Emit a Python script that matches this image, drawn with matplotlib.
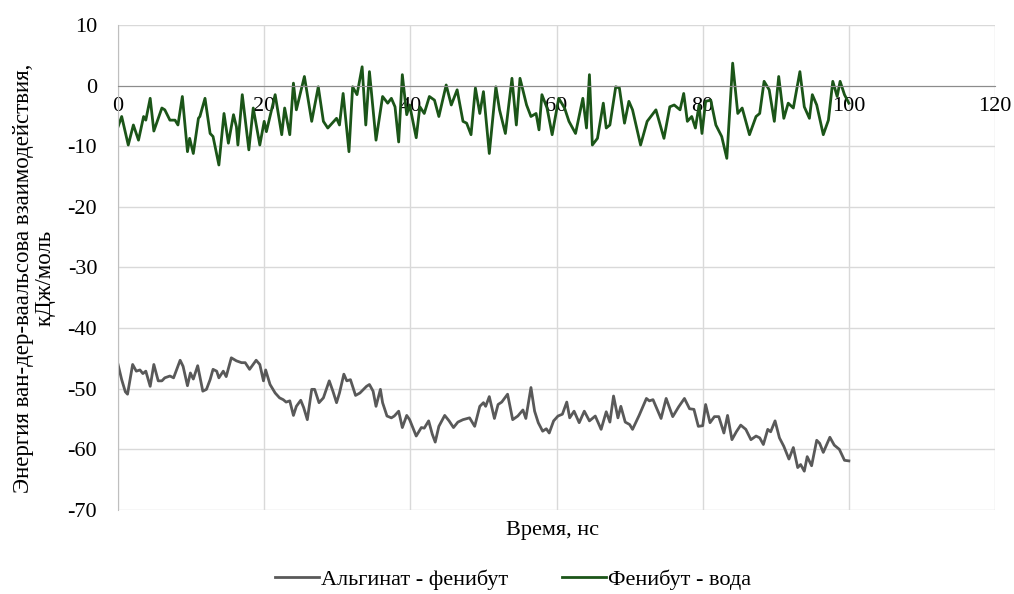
import matplotlib
matplotlib.use("Agg")
import matplotlib.pyplot as plt

plt.rcParams['font.family'] = ['Liberation Serif', 'DejaVu Serif']
plt.rcParams['axes.unicode_minus'] = False

# Альгинат - фенибут (gray)
alg_t = [0.0, 0.5, 1.0, 1.3, 2.0, 2.5, 3.0, 3.4, 3.8, 4.4, 4.9, 5.5, 6.0, 6.4, 7.1, 7.6,
         8.5, 8.9, 9.5, 9.9, 10.3, 10.9, 11.6, 12.1, 12.6, 13.0, 13.5, 13.8, 14.4, 14.8,
         15.5, 16.2, 16.9, 17.4, 18.0, 18.9, 19.4, 19.9, 20.2, 20.8, 21.5, 22.1, 22.6,
         23.0, 23.5, 24.0, 24.4, 25.0, 25.4, 25.9, 26.5, 26.9, 27.5, 28.1, 28.9, 29.4,
         29.9, 30.3, 30.9, 31.3, 31.8,
         32.5, 33.1, 34.0, 34.4, 34.9, 35.3, 35.9, 36.2, 36.8, 37.4, 37.8, 38.4, 38.9,
         39.5, 39.9, 40.8, 41.5, 41.9, 42.5, 43.0, 43.4, 43.9, 44.7, 45.3, 45.9, 46.5,
         47.2, 48.1, 48.8, 49.5, 50.0, 50.3, 50.8, 51.5, 52.0, 52.5, 53.3, 54.0, 54.7,
         55.4, 55.8, 56.5, 57.0, 57.5, 58.1, 58.6, 59.0, 59.6, 60.2, 60.8, 61.4, 61.8,
         62.4, 63.1, 63.8,
         64.5, 65.3, 66.1, 66.8, 67.3, 67.8, 68.4, 68.8, 69.4, 70.0, 70.4, 71.3, 72.3,
         72.7, 73.2, 74.3, 75.0, 75.9, 76.7, 77.5, 78.2, 78.8, 79.4, 80.0, 80.4, 81.0,
         81.6, 82.2, 82.9, 83.4, 84.0, 84.6, 85.2, 85.9, 86.6, 87.3, 87.8, 88.3, 88.9,
         89.3, 89.9, 90.5, 91.1, 91.8, 92.4, 93.0, 93.4, 93.9, 94.3, 94.9, 95.6, 96.0,
         96.5, 97.4, 98.0, 98.7, 99.4, 100.0]
alg_e = [-46.0, -48.5, -50.5, -50.9, -46.0, -47.1, -46.9, -47.5, -47.1, -49.6, -46.0, -48.7,
         -48.7, -48.2, -47.9, -48.2, -45.3, -46.3, -49.5, -47.4, -48.4, -46.2, -50.4, -50.1,
         -48.5, -46.8, -47.1, -48.2, -47.1, -48.0, -44.9, -45.4, -45.7, -45.7, -46.8, -45.3,
         -46.0, -48.7, -46.9, -49.3, -50.7, -51.5, -51.8, -52.2, -52.0, -54.4, -52.9, -51.9,
         -53.1, -55.1, -50.1, -50.1, -52.3, -51.5, -48.7, -50.4, -52.3, -50.7, -47.6, -48.7,
         -48.5,
         -51.1, -50.7, -49.6, -49.3, -50.4, -52.9, -50.1, -52.3, -54.5, -54.8, -54.5, -53.7,
         -56.4, -54.4, -55.1, -57.8, -56.4, -56.5, -55.3, -57.5, -58.8, -56.2, -54.4, -55.3,
         -56.4, -55.5, -55.1, -54.8, -56.2, -52.9, -52.3, -52.9, -51.3, -54.9, -52.6, -52.2,
         -50.9, -55.1, -54.5, -53.5, -54.9, -49.8, -53.7, -55.6, -57.0, -56.6, -57.3, -55.3,
         -54.5, -54.2, -52.2, -54.8, -53.7, -55.6, -53.7,
         -55.3, -54.5, -56.7, -53.8, -55.5, -51.2, -54.8, -52.9, -55.5, -55.9, -56.7, -54.4,
         -51.6, -52.0, -51.8, -54.9, -51.6, -54.6, -53.0, -51.6, -53.3, -53.4, -56.2, -56.1,
         -52.6, -55.6, -54.6, -54.6, -57.3, -54.4, -58.4, -57.1, -56.0, -56.7, -58.4, -57.8,
         -58.1, -59.2, -56.7, -57.1, -55.3, -58.1, -59.5, -61.6, -59.7, -63.0, -62.5, -63.6,
         -61.2, -62.7, -58.5, -59.0, -60.5, -58.0, -59.3, -60.0, -61.8, -61.9]

# Фенибут - вода (green)
fen_t = [0.0, 0.5, 1.4, 2.1, 2.8, 3.5, 3.8, 4.4, 4.9, 6.0, 6.4, 7.1, 7.8, 8.2, 8.8, 9.5,
         9.8, 10.3, 11.0, 11.2, 11.9, 12.6, 13.0, 13.8, 14.5, 15.1, 15.8, 16.2, 16.4,
         17.0, 17.9, 18.5, 19.4, 20.0, 20.3, 21.5, 22.4, 22.8, 23.5, 24.0, 24.4, 25.5,
         26.5, 27.4, 28.1, 28.7, 29.9, 30.3, 30.8, 31.6,
         32.1, 32.7, 33.4, 33.9, 34.4, 35.3, 36.2, 36.9, 37.4, 37.9, 38.4, 38.9, 39.5,
         39.9, 40.8, 41.3, 41.9, 42.6, 43.3, 43.9, 44.9, 45.6, 46.4, 47.2, 47.7, 48.3,
         48.9, 49.5, 50.0, 50.8, 51.7, 52.2, 53.0, 53.9, 54.5, 55.0, 55.9, 56.5, 57.2,
         57.6, 58.0, 58.7, 59.4, 60.3, 61.1, 61.7, 62.6, 63.6, 64.1,
         64.5, 64.9, 65.6, 66.4, 66.8, 67.3, 68.1, 68.6, 69.3, 69.9, 70.4, 71.5, 72.4,
         73.6, 74.7, 75.5, 76.1, 76.9, 77.4, 77.9, 78.5, 79.0, 79.5, 79.9, 80.4, 81.1,
         81.8, 82.6, 83.3, 84.1, 84.8, 85.4, 86.4, 87.3, 87.8, 88.4, 89.1, 89.8, 90.4,
         91.1, 91.7, 92.4, 93.3, 93.9, 94.6, 95.0, 95.6, 96.5, 97.2, 97.8, 98.4, 98.8,
         99.4, 100.0]
fen_e = [-6.8, -5.1, -9.8, -6.5, -9.0, -5.1, -5.7, -2.1, -7.5, -3.7, -4.0, -5.7, -5.7, -6.5,
         -1.8, -10.9, -8.7, -11.2, -5.4, -5.1, -2.1, -7.9, -8.4, -13.1, -4.6, -9.5, -4.8,
         -6.8, -9.8, -1.5, -10.6, -3.7, -9.8, -5.9, -7.6, -1.5, -8.1, -3.7, -8.1, 0.4,
         -4.0, 1.5, -5.9, -0.2, -5.9, -7.0, -5.4, -6.5, -1.3, -10.9,
         -0.2, -1.5, 3.1, -6.5, 2.3, -9.0, -1.8, -2.9, -2.1, -3.5, -9.3, 1.8, -4.8, -3.2,
         -8.6, -3.5, -4.6, -1.8, -2.4, -5.1, 0.1, -3.2, -0.7, -5.9, -6.2, -8.1, -0.4,
         -4.6, -1.0, -11.2, -0.2, -4.0, -7.9, 1.2, -6.5, 1.2, -3.2, -5.1, -4.6, -7.3,
         -1.5, -3.7, -8.1, -2.1, -3.7, -5.9, -7.9, -2.1, -7.0,
         1.8, -9.8, -8.7, -2.9, -7.0, -6.5, -0.2, -0.4, -6.2, -2.6, -4.0, -9.8, -5.9,
         -4.0, -8.7, -3.5, -3.2, -4.0, -1.3, -5.9, -5.1, -7.0, -3.2, -7.9, -2.6, -2.4,
         -6.5, -8.4, -12.0, 3.7, -4.6, -3.7, -8.1, -5.1, -4.6, 0.7, -0.7, -5.9, 1.5,
         -5.4, -2.9, -3.7, 2.3, -3.5, -5.4, -1.5, -3.2, -8.1, -5.7, 0.7, -1.8, 0.7,
         -1.5, -2.9]

x_ticks = [0, 20, 40, 60, 80, 100, 120]
y_ticks = [10, 0, -10, -20, -30, -40, -50, -60, -70]

fig = plt.figure(figsize=(10.14, 5.94), dpi=100)
ax = fig.add_axes([0.1164, 0.1414, 0.8649, 0.8166])

ax.plot(alg_t, alg_e, color='#595959', lw=2.0, label='Альгинат - фенибут')
ax.plot(fen_t, fen_e, color='#1b5518', lw=2.0, label='Фенибут - вода')

ax.set_xlim(0, 120)
ax.set_ylim(-70, 10)
ax.set_xticks(x_ticks)
ax.set_yticks(y_ticks)
ax.grid(True, color='#d9d9d9', lw=1)
ax.set_axisbelow(True)

for s in ['top', 'right']:
    ax.spines[s].set_visible(False)
ax.spines['bottom'].set_position(('data', 0))
ax.spines['bottom'].set_color('#8c8c8c')
ax.spines['left'].set_color('#bfbfbf')
ax.tick_params(axis='both', length=0, labelsize=16)
ax.tick_params(axis='x', pad=8)
ax.tick_params(axis='y', pad=15)

fig.text(0.034, 0.532, 'Энергия ван-дер-ваальсова взаимодействия,\nкДж/моль',
         rotation=90, ha='center', va='center', multialignment='center',
         fontsize=16.5, linespacing=1.05)
fig.text(0.545, 0.107, 'Время, нс', ha='center', va='center', fontsize=16)

fig.legend(loc='center', bbox_to_anchor=(0.506, 0.024), ncol=2, frameon=False,
           fontsize=16, handlelength=2.0, handletextpad=0.1, columnspacing=2.4)

fig.savefig('out.png', dpi=100)
